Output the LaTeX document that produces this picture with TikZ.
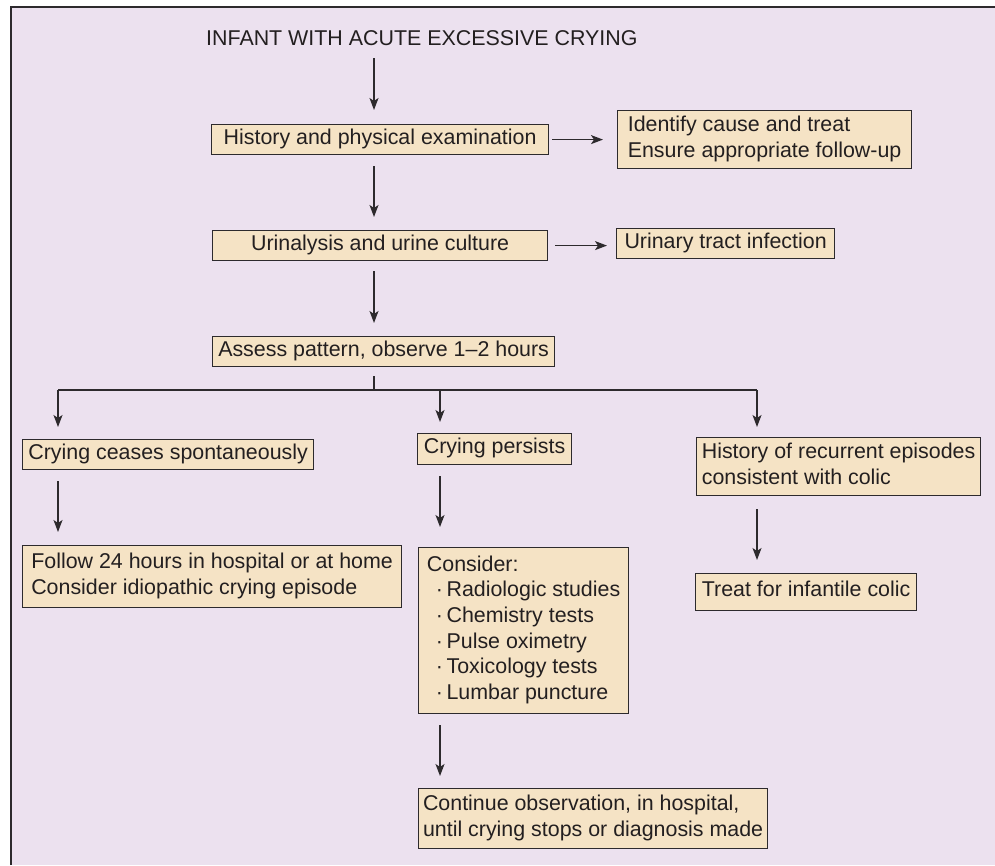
\documentclass[tikz,border=0pt]{standalone}
\usepackage{fontspec}
\setmainfont{Liberation Sans}
\usetikzlibrary{arrows.meta}
\definecolor{bgcol}{RGB}{236,225,239}
\definecolor{boxcol}{RGB}{245,227,197}
\definecolor{linecol}{RGB}{45,42,45}
\definecolor{textcol}{RGB}{35,31,32}
\newcommand{\bxfont}{\fontsize{21.4}{25.6}\selectfont}
\newcommand{\bxstrut}{\rule[-6pt]{0pt}{21pt}}
\tikzset{
  box/.style={draw=linecol, fill=boxcol, line width=1.2pt, font=\bxfont, text=textcol,
    align=left, inner sep=0pt, anchor=north west,
    execute at begin node=\bxstrut, execute at end node=\bxstrut},
  conn/.style={draw=linecol, line width=1.3pt},
  arr/.style={conn, -{Stealth[length=12pt,width=9pt,inset=3pt]}},
}
\begin{document}
\begin{tikzpicture}[x=1pt,y=-1pt]
\useasboundingbox (0,0) rectangle (995,865);
\fill[bgcol] (11,7) rectangle (995,865);
\draw[linecol, line width=1.6pt] (11,865) -- (11,7) -- (995,7);

\node[font=\bxfont, text=textcol, inner sep=0pt, anchor=base west] (title) at (206,45) {INFANT WITH ACUTE EXCESSIVE CRYING};

\node[box, minimum width=337pt, minimum height=30pt] (hist) at (211,124) {History and physical examination};
\node[box, minimum width=294pt, minimum height=58pt] (ident) at (617,110) {Identify cause and treat\\Ensure appropriate follow-up};
\node[box, minimum width=335pt, minimum height=30pt] (uri) at (212,230) {Urinalysis and urine culture};
\node[box, minimum width=218pt, minimum height=30pt] (uti) at (616,228) {Urinary tract infection};
\node[box, minimum width=342pt, minimum height=30pt] (assess) at (212,336) {Assess pattern, observe 1--2 hours};
\node[box, minimum width=291pt, minimum height=30pt] (cease) at (22,439) {Crying ceases spontaneously};
\node[box, minimum width=154pt, minimum height=31pt] (persist) at (417,433) {Crying persists};
\node[box, minimum width=284pt, minimum height=58pt] (recur) at (696,437) {History of recurrent episodes\\consistent with colic};
\node[box, minimum width=379pt, minimum height=62pt] (follow) at (22,545) {Follow 24 hours in hospital or at home\\Consider idiopathic crying episode};
\node[box, minimum width=210pt, minimum height=166pt] (consider) at (418,547) {Consider:\\\hspace{9pt}·\,Radiologic studies\\\hspace{9pt}·\,Chemistry tests\\\hspace{9pt}·\,Pulse oximetry\\\hspace{9pt}·\,Toxicology tests\\\hspace{9pt}·\,Lumbar puncture};
\node[box, minimum width=221pt, minimum height=37pt] (treat) at (695,573) {Treat for infantile colic};
\node[box, minimum width=349pt, minimum height=60pt] (cont) at (418,788) {Continue observation, in hospital,\\until crying stops or diagnosis made};

\coordinate (spine) at (374,0);
\coordinate (bus) at (374,390);
\coordinate (dl) at (58,390);
\coordinate (dm) at (440,390);
\coordinate (dr) at (757,390);

\draw[arr] ([yshift=-13pt]title.south -| spine) -- ([yshift=14pt]hist.north -| spine);
\draw[arr] ([yshift=-11pt]hist.south -| spine) -- ([yshift=13pt]uri.north -| spine);
\draw[arr] ([yshift=-10pt]uri.south -| spine) -- ([yshift=13pt]assess.north -| spine);
\draw[conn] ([yshift=-9pt]assess.south -| spine) -- (bus);
\draw[conn] (dl) -- (dr);
\draw[arr] (dl) -- ([yshift=12pt]cease.north -| dl);
\draw[arr] (dm) -- ([yshift=11pt]persist.north -| dm);
\draw[arr] (dr) -- ([yshift=10pt]recur.north -| dr);

\draw[arr] ([xshift=3pt]hist.east) -- ([xshift=-14pt]hist.east -| ident.west);
\draw[arr] ([xshift=7pt]uri.east) -- ([xshift=-9pt]uri.east -| uti.west);

\draw[arr] ([yshift=-11pt]cease.south -| dl) -- ([yshift=13pt]follow.north -| dl);
\draw[arr] ([yshift=-11pt]persist.south -| dm) -- ([yshift=20pt]consider.north -| dm);
\draw[arr] ([yshift=-13pt]recur.south -| dr) -- ([yshift=13pt]treat.north -| dr);
\draw[arr] ([yshift=-11pt]consider.south -| dm) -- ([yshift=12pt]cont.north -| dm);
\end{tikzpicture}
\end{document}
